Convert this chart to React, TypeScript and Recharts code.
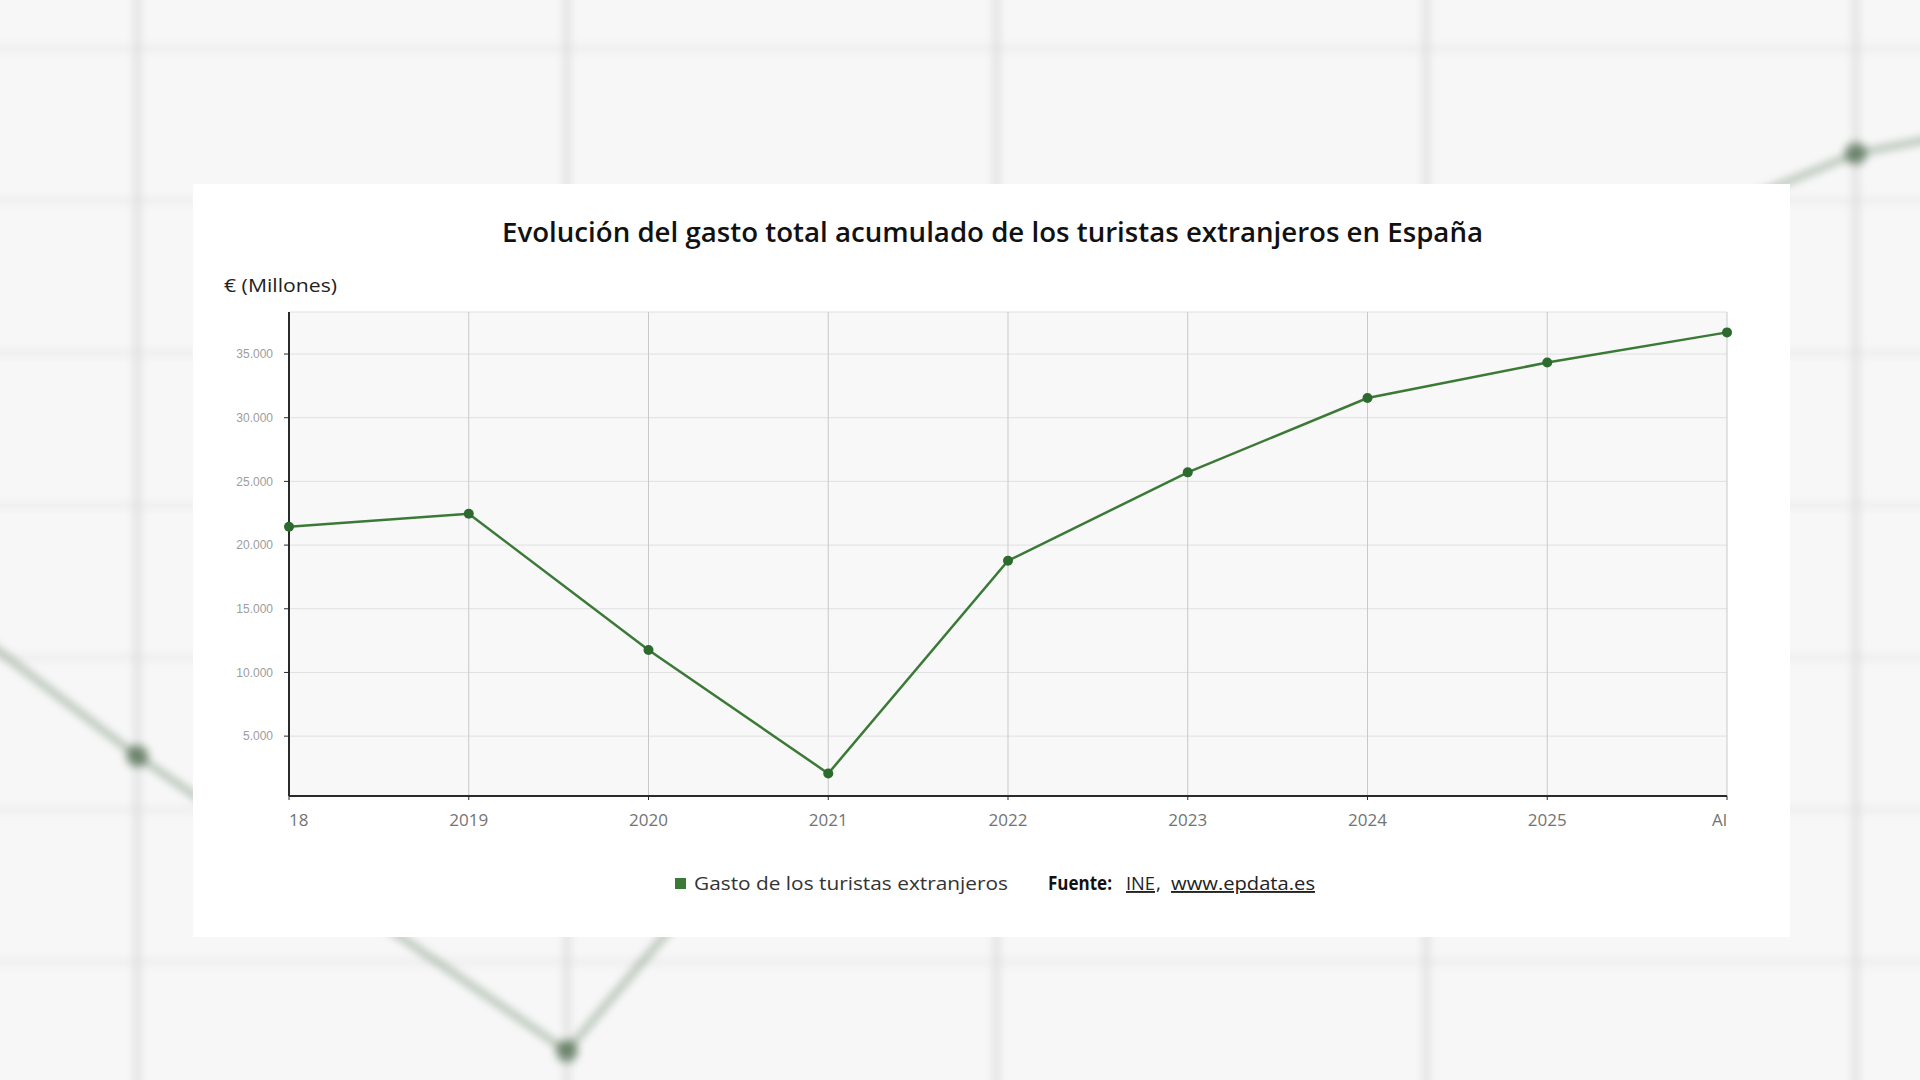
import React from "react";
import { LineChart, Line, XAxis, YAxis, CartesianGrid } from "recharts";

// ---- data ----
const periods = ["18", "2019", "2020", "2021", "2022", "2023", "2024", "2025", "Al"];
const gastoTuristas = [21440, 22460, 11760, 2070, 18770, 25710, 31550, 34330, 36700];
const yTicks = [5000, 10000, 15000, 20000, 25000, 30000, 35000];
const yDomain: [number, number] = [300, 38300];

const title = "Evolución del gasto total acumulado de los turistas extranjeros en España";
const unitLabel = "€ (Millones)";
const seriesName = "Gasto de los turistas extranjeros";

const data = periods.map((p, i) => ({ periodo: p, gasto: gastoTuristas[i] }));

const fmt = (v: number) => v.toLocaleString("de-DE");

const GREEN_LINE = "#3b7936";
const GREEN_DOT = "#2d6a2d";

const XTick = (props: any) => {
  const { x, y, payload } = props;
  const idx = payload.index;
  const last = periods.length - 1;
  const anchor = idx === 0 ? "start" : idx === last ? "end" : "middle";
  return (
    <text
      x={x}
      y={y}
      dy="0.71em"
      textAnchor={anchor}
      fill="#737373"
      fontSize={17}
      fontFamily="'Open Sans', sans-serif"
    >
      {payload.value}
    </text>
  );
};

const NoTick = () => <g />;

const BackgroundChart = () => (
  <div
    style={{
      position: "absolute",
      left: -722,
      top: -52,
      width: 3437,
      height: 1157,
      filter: "blur(4.5px)",
    }}
  >
    <LineChart width={3437} height={1157} data={data} margin={{ top: 0, right: 0, bottom: 0, left: 0 }}>
      <CartesianGrid horizontal={true} vertical={false} stroke="#ececec" strokeWidth={6} fill="#f7f7f7" />
      <CartesianGrid horizontal={false} vertical={true} stroke="#dddddd" strokeWidth={6} />
      <XAxis dataKey="periodo" height={0} tick={<NoTick />} axisLine={false} tickLine={false} interval={0} />
      <YAxis
        domain={yDomain}
        ticks={yTicks}
        width={0}
        tick={<NoTick />}
        axisLine={false}
        tickLine={false}
        allowDataOverflow
      />
      <Line
        type="linear"
        dataKey="gasto"
        stroke="#5f7d5f"
        strokeOpacity={0.5}
        strokeWidth={6}
        dot={{ r: 11, fill: "#4a664a", fillOpacity: 0.7, strokeWidth: 0 }}
        activeDot={false}
        isAnimationActive={false}
      />
    </LineChart>
  </div>
);

export default function App() {
  return (
    <div
      style={{
        position: "absolute",
        left: 0,
        top: 0,
        width: 1920,
        height: 1080,
        overflow: "hidden",
        background: "#f6f6f6",
        fontFamily: "'Open Sans', sans-serif",
      }}
    >
      <BackgroundChart />
      <div
        style={{
          position: "absolute",
          left: 193,
          top: 184,
          width: 1597,
          height: 753,
          background: "#ffffff",
        }}
      />
      <div style={{ position: "absolute", left: 193, top: 184, width: 1597, height: 753 }}>
        <LineChart width={1597} height={753} data={data} margin={{ top: 128, right: 63, bottom: 101, left: 0 }}>
          <CartesianGrid horizontal={true} vertical={false} stroke="#e0e0e0" strokeWidth={1} fill="#f8f8f8" />
          <CartesianGrid horizontal={false} vertical={true} stroke="#c9c9c9" strokeWidth={1} />
          <XAxis
            dataKey="periodo"
            height={40}
            interval={0}
            axisLine={{ stroke: "#2a2a2a", strokeWidth: 2 }}
            tickLine={{ stroke: "#2a2a2a", strokeWidth: 1 }}
            tickSize={4}
            tickMargin={14}
            tick={<XTick />}
          />
          <YAxis
            domain={yDomain}
            ticks={yTicks}
            width={96}
            allowDataOverflow
            tickFormatter={fmt}
            axisLine={{ stroke: "#2a2a2a", strokeWidth: 2 }}
            tickLine={{ stroke: "#2a2a2a", strokeWidth: 1 }}
            tickSize={5}
            tickMargin={11}
            tick={{ fill: "#9d9d9d", fontSize: 12, fontFamily: "'Liberation Sans', Arial, sans-serif" }}
          />
          <Line
            type="linear"
            dataKey="gasto"
            name={seriesName}
            stroke={GREEN_LINE}
            strokeWidth={2.5}
            dot={{ r: 5, fill: GREEN_DOT, stroke: GREEN_DOT, strokeWidth: 0 }}
            activeDot={false}
            isAnimationActive={false}
          />
        </LineChart>
      </div>
      <svg
        width={1920}
        height={1080}
        style={{ position: "absolute", left: 0, top: 0, pointerEvents: "none" }}
      >
        <text
          x={502}
          y={242}
          textLength={981}
          lengthAdjust="spacingAndGlyphs"
          fontSize={27}
          fontWeight={600}
          fill="#111111"
          fontFamily="'Open Sans', sans-serif"
        >
          {title}
        </text>
        <text
          x={224}
          y={292}
          textLength={113}
          lengthAdjust="spacingAndGlyphs"
          fontSize={19}
          fill="#222222"
          fontFamily="'Open Sans', sans-serif"
        >
          {unitLabel}
        </text>
        <rect x={675} y={878} width={11} height={11} fill={GREEN_LINE} />
        <text
          x={694}
          y={890}
          textLength={314}
          lengthAdjust="spacingAndGlyphs"
          fontSize={19}
          fill="#333333"
          fontFamily="'Open Sans', sans-serif"
        >
          {seriesName}
        </text>
        <text
          x={1048}
          y={890}
          textLength={64}
          lengthAdjust="spacingAndGlyphs"
          fontSize={19}
          fontWeight={700}
          fill="#111111"
          fontFamily="'Open Sans', sans-serif"
        >
          Fuente:
        </text>
        <text
          x={1126}
          y={890}
          textLength={29}
          lengthAdjust="spacingAndGlyphs"
          fontSize={19}
          fill="#222222"
          textDecoration="underline"
          fontFamily="'Open Sans', sans-serif"
        >
          INE
        </text>
        <text x={1156} y={890} fontSize={19} fill="#222222" fontFamily="'Open Sans', sans-serif">
          ,
        </text>
        <text
          x={1171}
          y={890}
          textLength={144}
          lengthAdjust="spacingAndGlyphs"
          fontSize={19}
          fill="#222222"
          textDecoration="underline"
          fontFamily="'Open Sans', sans-serif"
        >
          www.epdata.es
        </text>
      </svg>
    </div>
  );
}
